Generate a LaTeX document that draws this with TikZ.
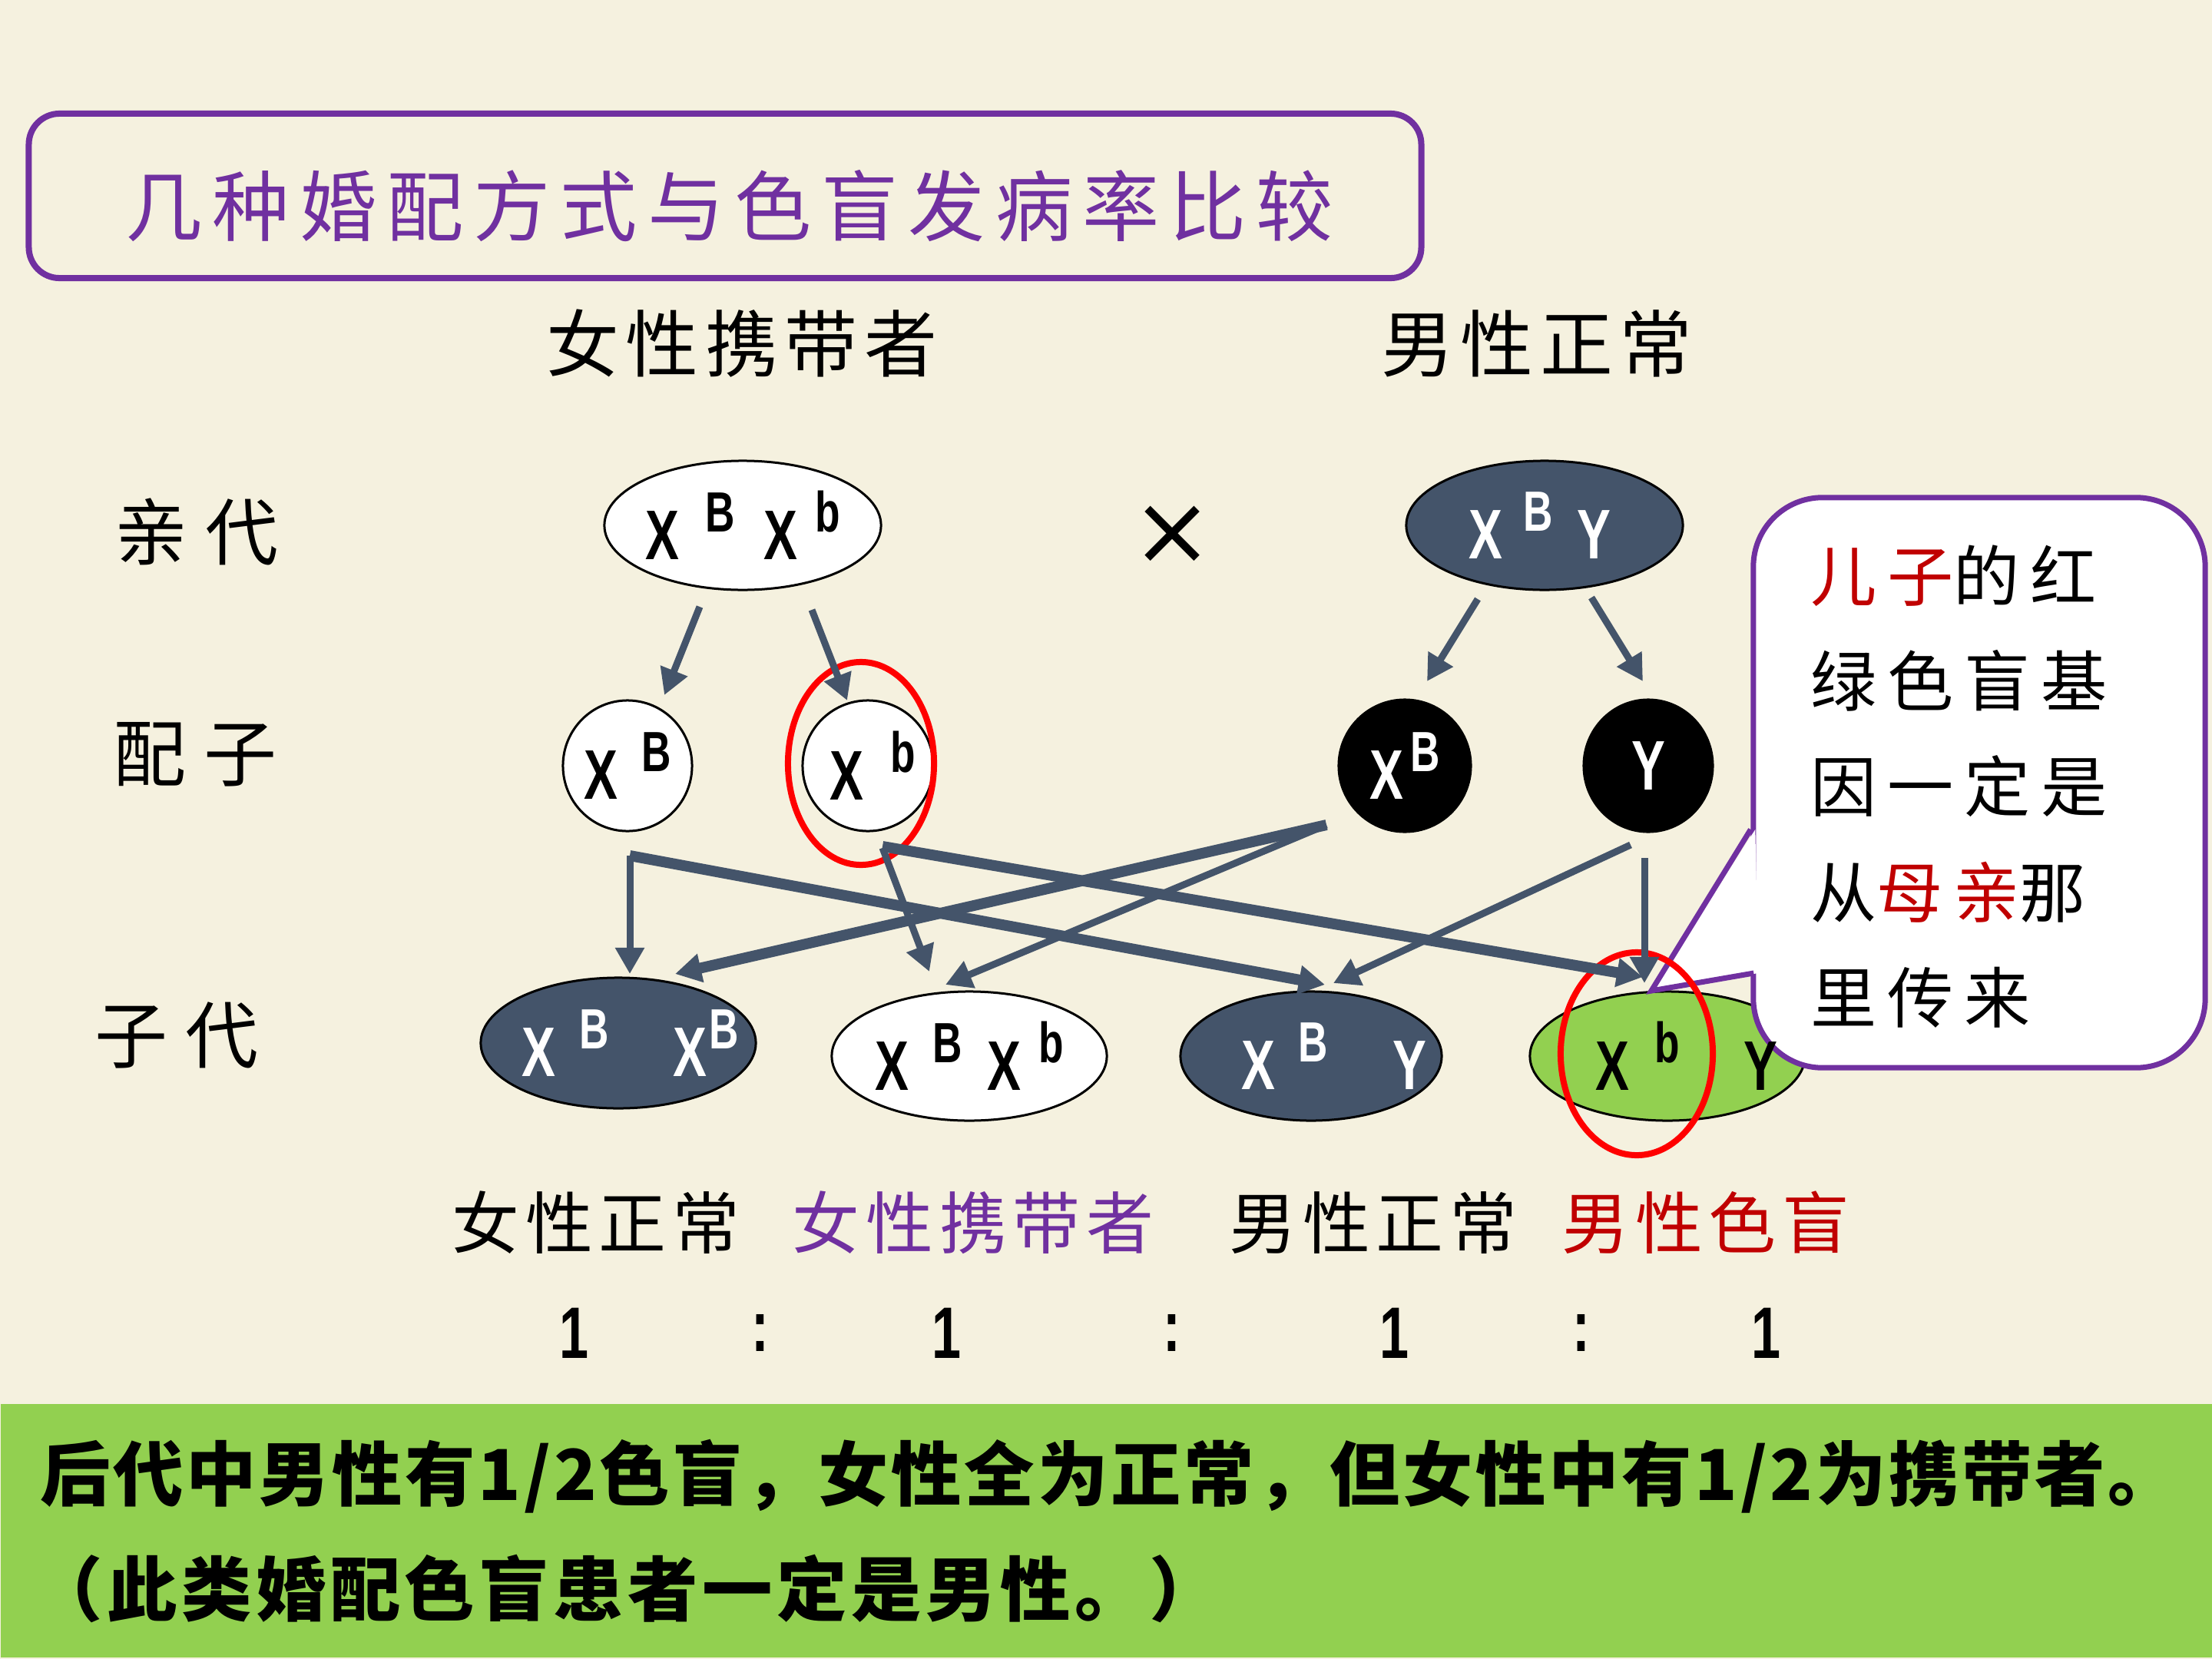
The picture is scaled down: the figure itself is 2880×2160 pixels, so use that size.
\documentclass[tikz,border=0pt]{standalone}
\usepackage{fontspec}
\usetikzlibrary{shapes.geometric,arrows.meta,calc}
\newfontfamily\cjk{Noto Sans CJK SC}
\newfontfamily\lat[FakeStretch=0.72]{Liberation Sans}
\newfontfamily\dv{DejaVu Sans}
\definecolor{bg}{RGB}{245,241,223}
\definecolor{slate}{HTML}{44546A}
\definecolor{grn}{HTML}{92D050}
\definecolor{purp}{HTML}{7030A0}
\definecolor{dred}{HTML}{C00000}
\newcommand\supl[1]{\raisebox{0.36cm}{\fontsize{21}{21}\selectfont #1}}
\newcommand\cjkf[2]{\cjk\fontsize{#1}{#1}\selectfont\addfontfeature{LetterSpace=#2}}
\tikzset{
  gen/.style={ellipse, draw=black, line width=0.03cm, inner sep=0pt, font=\lat\bfseries\fontsize{26}{26}\selectfont},
  wgen/.style={gen, fill=white, text=black},
  sgen/.style={gen, fill=slate, text=white},
  kgen/.style={gen, fill=black, text=white},
  ggen/.style={gen, fill=grn, text=black},
  ring/.style={ellipse, draw=red, line width=0.08cm, inner sep=0pt},
  arr/.style={draw=slate, line width=0.09cm, -{Triangle[length=0.34cm,width=0.36cm]}},
  arrT/.style={arr, line width=0.14cm},
  rowlab/.style={font=\cjkf{27}{24}},
  toplab/.style={font=\cjkf{27}{9}},
  botlab/.style={font=\cjkf{25}{9}},
  ratio/.style={font=\lat\bfseries\fontsize{27}{27}\selectfont},
}
\begin{document}
\begin{tikzpicture}[x=0.01cm,y=-0.01cm]
\useasboundingbox (0,0) rectangle (2880,2160);
\fill[bg] (0,0) rectangle (2880,2160);

% title
\node[draw=purp, line width=0.08cm, rounded corners=0.4cm, minimum width=18.12cm, minimum height=2.14cm, inner sep=0pt] (tb) at (944,255) {};
\node[text=purp, font=\cjkf{28.5}{13}] (tt) at (950,268) {几种婚配方式与色盲发病率比较};

% column headers
\node[toplab] (hf) at (966,447) {女性携带者};
\node[toplab] (hm) at (2001,447) {男性正常};

% row labels
\node[rowlab] (r1) at (256,693) {亲代};
\node[rowlab] (r2) at (254,982) {配子};
\node[rowlab] (r3) at (230,1348) {子代};

% parents
\node[wgen, minimum width=3.6cm, minimum height=1.68cm] (pf) at (967,684)
  {\makebox[0pt]{X\hspace{0.34cm}\supl{B}\hspace{0.38cm}X\hspace{0.23cm}\supl{b}}};
\node[sgen, minimum width=3.6cm, minimum height=1.68cm] (pm) at (2011,684)
  {\makebox[0pt]{\hspace{-0.12cm}X\hspace{0.27cm}\supl{B}\hspace{0.31cm}Y}};
\node[font=\dv\fontsize{36}{36}\selectfont] (mul) at (1527,697) {×};

% gametes
\node[wgen, minimum width=1.68cm, minimum height=1.70cm] (g1) at (817,997)
  {\makebox[0pt]{X\hspace{0.31cm}\supl{B}}};
\node[wgen, minimum width=1.70cm, minimum height=1.70cm] (g2) at (1130,997)
  {\makebox[0pt]{\hspace{0.12cm}X\hspace{0.35cm}\supl{b}}};
\node[kgen, minimum width=1.72cm, minimum height=1.72cm] (g3) at (1829,997)
  {\makebox[0pt]{X\hspace{0.09cm}\supl{B}}};
\node[kgen, minimum width=1.68cm, minimum height=1.72cm] (g4) at (2146,997)
  {\makebox[0pt]{Y}};
\node[ring, minimum width=1.90cm, minimum height=2.64cm] (rg) at (1121,994) {};

% offspring
\node[sgen, minimum width=3.58cm, minimum height=1.70cm] (o1) at (805,1358)
  {\makebox[0pt]{\hspace{0.32cm}X\hspace{0.31cm}\supl{B}\hspace{0.83cm}X\hspace{0.04cm}\supl{B}}};
\node[wgen, minimum width=3.58cm, minimum height=1.68cm] (o2) at (1262,1375)
  {\makebox[0pt]{X\hspace{0.31cm}\supl{B}\hspace{0.33cm}X\hspace{0.23cm}\supl{b}}};
\node[sgen, minimum width=3.40cm, minimum height=1.68cm] (o3) at (1707,1375)
  {\makebox[0pt]{\hspace{0.60cm}X\hspace{0.30cm}\supl{B}\hspace{0.84cm}Y}};
\node[ggen, minimum width=3.58cm, minimum height=1.68cm] (o4) at (2171,1375) {};

% callout
\node[draw=purp, line width=0.07cm, fill=white, rounded corners=0.9cm, minimum width=5.88cm, minimum height=7.42cm, inner sep=0pt] (cb) at (2577,1019) {};
\coordinate (t1) at ($(cb.west)+(0,61)$);
\coordinate (t2) at ($(cb.west)+(4,248)$);
\coordinate (tip) at (2150,1290);
\fill[white] ($(t1)+(6,0)$) -- (tip) -- ($(t2)+(6,0)$) -- cycle;
\draw[purp, line width=0.07cm, line join=miter] (t1) -- (tip) -- (t2);
\node[anchor=west, align=left, font=\cjk\fontsize{24.5}{39}\selectfont\addfontfeature{LetterSpace=16}] (ct) at (2345,1024)
  {\textcolor{dred}{儿子}的红\\绿色盲基\\因一定是\\从\textcolor{dred}{母亲}那\\里传来};

% offspring 4 text on top
\node[font=\lat\bfseries\fontsize{26}{26}\selectfont, inner sep=0pt] (o4t) at (o4)
  {\makebox[0pt]{\hspace{0.50cm}X\hspace{0.33cm}\supl{b}\hspace{0.84cm}Y}};
\node[ring, minimum width=1.98cm, minimum height=2.64cm] (ro) at (2131,1372) {};

% arrows parents -> gametes
\draw[arr] ($(pf)+(-56,106)$) -- ($(g1)+(48,-92)$);
\draw[arr] ($(pf)+(90,110)$) -- ($(g2)+(-27,-85)$);
\draw[arr] ($(pm)+(-87,96)$) -- ($(g3)+(29,-110)$);
\draw[arr] ($(pm)+(61,94)$) -- ($(g4)+(-7,-110)$);

% arrows gametes -> offspring
\coordinate (s1) at ($(g1)+(3,117)$);
\coordinate (s3) at ($(g3)+(-102,77)$);
\draw[arr] (s1) -- ($(o1)+(15,-90)$);
\draw[arrT] (s1) -- ($(o3)+(18,-93)$);
\draw[arr] ($(g2)+(19,107)$) -- ($(o2)+(-52,-110)$);
\draw[arrT] ($(g2)+(19,105)$) -- ($(o4)+(-32,-103)$);
\draw[arrT] (s3) -- ($(o1)+(74,-90)$);
\draw[arr] (s3) -- ($(o2)+(-31,-93)$);
\draw[arr] ($(g4)+(-23,103)$) -- ($(o3)+(29,-95)$);
\draw[arr] ($(g4)+(-5,120)$) -- ($(o4)+(-30,-95)$);

% bottom labels
\node[botlab] (l1) at (776,1592) {女性正常};
\node[botlab, text=purp] (l2) at (1267,1592) {女性携带者};
\node[botlab] (l3) at (1788,1592) {男性正常};
\node[botlab, text=dred] (l4) at (2221,1592) {男性色盲};

% ratio
\node[ratio] (n1) at (748,1736) {1};
\node[ratio] (c1) at (990,1736) {:};
\node[ratio] (n2) at (1233,1736) {1};
\node[ratio] (c2) at (1526,1736) {:};
\node[ratio] (n3) at (1815,1736) {1};
\node[ratio] (c3) at (2059,1736) {:};
\node[ratio] (n4) at (2299,1736) {1};

% banner
\node[fill=grn, minimum width=28.8cm, minimum height=3.30cm, inner sep=0pt, anchor=north west] (ban) at (0,1827) {};
\node[anchor=west, font=\cjkf{26}{4}\bfseries] (bt1) at (40,1922) {后代中男性有1/2色盲，女性全为正常，但女性中有1/2为携带者。};
\node[anchor=west, font=\cjkf{26}{6}\bfseries] (bt2) at (30,2069) {（此类婚配色盲患者一定是男性。）};
\end{tikzpicture}
\end{document}
